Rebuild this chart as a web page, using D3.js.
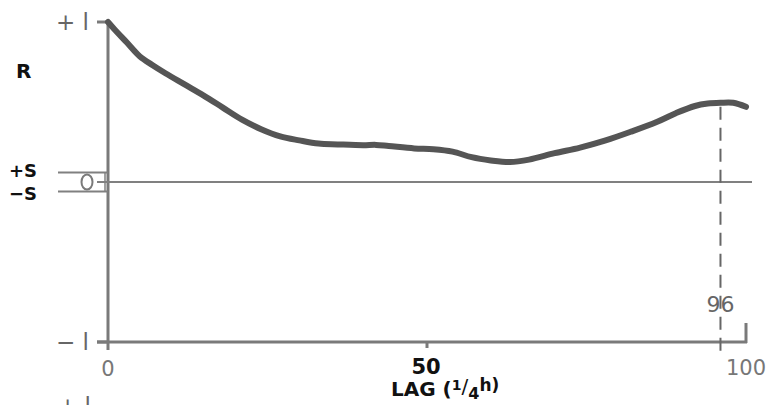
<!DOCTYPE html>
<html><head><meta charset="utf-8">
<script src="https://cdn.jsdelivr.net/npm/d3@7"></script>
<style>body{margin:0;background:#fff}svg{display:block}text{font-family:"DejaVu Sans",sans-serif}</style>
</head><body><svg id="c" width="768" height="405"></svg>
<script>
const lags = [0,1,3,5,7,9,12,15,18,21,24,27,30,33,36,40,42,44,48,51,54,57,60,63,66,70,74,78,82,86,89,92,94,96,98,100];
const rValues = [1.0,0.955,0.87,0.785,0.73,0.68,0.61,0.54,0.465,0.39,0.33,0.285,0.26,0.24,0.235,0.23,0.232,0.225,0.21,0.205,0.19,0.155,0.135,0.125,0.14,0.18,0.215,0.26,0.315,0.375,0.43,0.475,0.49,0.495,0.495,0.47];
const xTicks = [0,50,100];
const xTickLabels = ["0","50","100"];
const yTicks = [1,-1];
const yTickLabels = ["+ l","− l"];
const sLevel = 0.06;
const markLag = 96;

const svg = d3.select("#c");
const x = d3.scaleLinear().domain([0,100]).range([108,746]);
const y = d3.scaleLinear().domain([-1,1]).range([342,22]);
const axisCol = "#7a7a7a";

svg.append("line").attr("x1",x(0)).attr("x2",x(0)).attr("y1",y(1)-1).attr("y2",y(-1)+8)
  .attr("stroke",axisCol).attr("stroke-width",3);
svg.append("line").attr("x1",x(0)-11).attr("x2",x(100)+1).attr("y1",y(-1)).attr("y2",y(-1))
  .attr("stroke",axisCol).attr("stroke-width",3);
svg.append("line").attr("x1",x(100)).attr("x2",x(100)).attr("y1",y(-1)-19).attr("y2",y(-1)+1)
  .attr("stroke",axisCol).attr("stroke-width",3);
svg.append("line").attr("x1",x(50)).attr("x2",x(50)).attr("y1",y(-1)).attr("y2",y(-1)+6)
  .attr("stroke",axisCol).attr("stroke-width",3);
yTicks.forEach((t,i)=>{
  svg.append("line").attr("x1",x(0)-11).attr("x2",x(0)).attr("y1",y(t)).attr("y2",y(t))
    .attr("stroke",axisCol).attr("stroke-width",3);
  svg.append("text").attr("x",x(0)-19).attr("y",y(t)+8).attr("text-anchor","end")
    .attr("font-size",23).attr("fill","#666").text(yTickLabels[i]);
});
svg.append("line").attr("x1",x(0)-11).attr("x2",x(100)+6).attr("y1",y(0)).attr("y2",y(0))
  .attr("stroke","#808080").attr("stroke-width",2);
[sLevel,-sLevel].forEach(s=>{
  svg.append("line").attr("x1",58).attr("x2",x(0)).attr("y1",y(s)).attr("y2",y(s))
    .attr("stroke","#808080").attr("stroke-width",2);
});
svg.append("line").attr("x1",x(0)-3).attr("x2",x(0)-3).attr("y1",y(sLevel)).attr("y2",y(-sLevel))
  .attr("stroke","#808080").attr("stroke-width",1.5);
svg.append("ellipse").attr("cx",87).attr("cy",y(0)).attr("rx",5.5).attr("ry",7.5)
  .attr("fill","#fff").attr("stroke","#7a7a7a").attr("stroke-width",2);
svg.append("text").attr("x",9).attr("y",y(sLevel)+5).attr("font-size",18).attr("font-weight","bold").attr("fill","#111").text("+S");
svg.append("text").attr("x",9).attr("y",y(-sLevel)+8).attr("font-size",18).attr("font-weight","bold").attr("fill","#111").text("−S");
svg.append("text").attr("x",16).attr("y",78).attr("font-size",20).attr("font-weight","bold").attr("fill","#111").text("R");

const idx = lags.indexOf(markLag);
svg.append("line").attr("x1",x(markLag)).attr("x2",x(markLag)).attr("y1",y(rValues[idx])+4).attr("y2",y(-1)+14)
  .attr("stroke","#666").attr("stroke-width",2).attr("stroke-dasharray","13,8");
svg.append("text").attr("x",x(markLag)).attr("y",312).attr("text-anchor","middle")
  .attr("font-size",22).attr("fill","#666").text(String(markLag));

svg.append("text").attr("x",x(0)).attr("y",376).attr("text-anchor","middle").attr("font-size",21).attr("fill","#777").text(xTickLabels[0]);
svg.append("text").attr("x",x(50)-1).attr("y",374).attr("text-anchor","middle").attr("font-size",21).attr("font-weight","bold").attr("fill","#111").text(xTickLabels[1]);
svg.append("text").attr("x",x(100)).attr("y",375).attr("text-anchor","middle").attr("font-size",21).attr("fill","#777").text(xTickLabels[2]);

const t = svg.append("text").attr("x",391).attr("y",396).attr("font-size",20).attr("font-weight","bold").attr("fill","#111");
t.append("tspan").text("LAG (");
t.append("tspan").attr("font-size",14).attr("dy",-6).text("1");
t.append("tspan").attr("font-size",20).attr("dy",3).attr("font-weight","normal").text("/");
t.append("tspan").attr("font-size",16).attr("dy",6).text("4");
t.append("tspan").attr("font-size",17).attr("dy",-8).text("h)");

svg.append("text").attr("x",58).attr("y",414).attr("font-size",23).attr("fill","#666").text("+ l");

const line = d3.line().x((d,i)=>x(lags[i])).y(d=>y(d)).curve(d3.curveCatmullRom.alpha(0.5));
svg.append("path").datum(rValues).attr("d",line).attr("fill","none")
  .attr("stroke","#555").attr("stroke-width",6).attr("stroke-linecap","round").attr("stroke-linejoin","round");
</script></body></html>
